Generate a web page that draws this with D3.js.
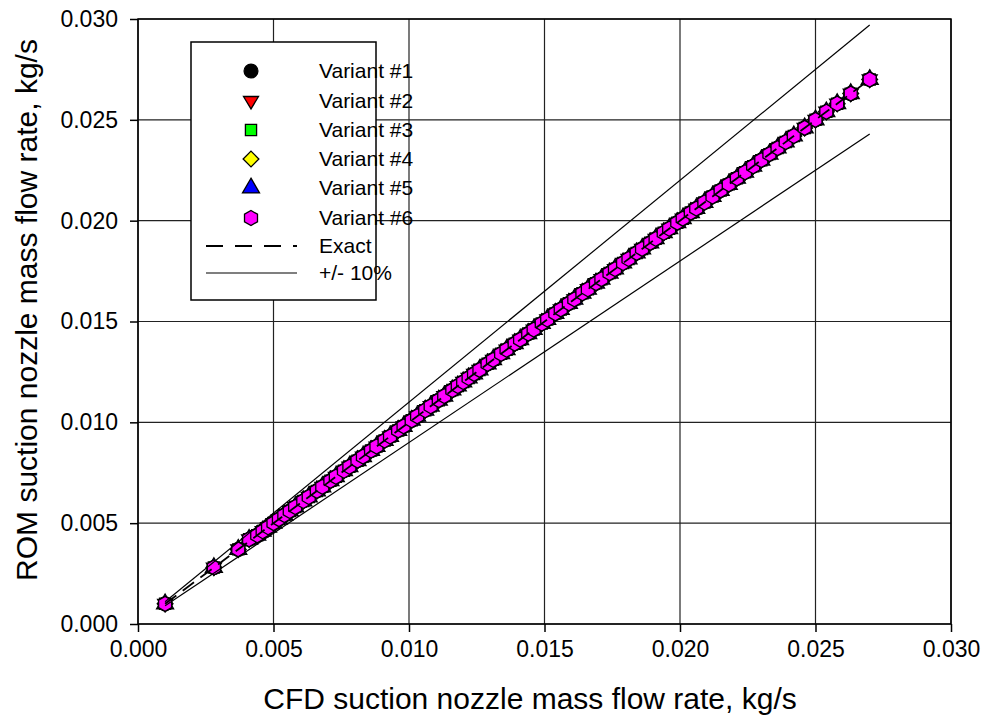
<!DOCTYPE html>
<html>
<head>
<meta charset="utf-8">
<script src="https://cdn.jsdelivr.net/npm/d3@7"></script>
<style>
  body { margin: 0; background: #fff; }
  svg { font-family: "Liberation Sans", Arial, sans-serif; }
</style>
</head>
<body>
<svg width="987" height="726"></svg>
<script>
// CFD (x) vs ROM (y) suction nozzle mass flow rate, kg/s
var cfd = [0.0010, 0.0028, 0.0037, 0.0041, 0.0044, 0.0046, 0.0048, 0.0050, 0.0052, 0.0054,
  0.0056, 0.0058, 0.0061, 0.0063, 0.0066, 0.0068, 0.0071, 0.0073, 0.0076, 0.0078,
  0.0081, 0.0083, 0.0086, 0.0088, 0.0091, 0.0093, 0.0096, 0.0098, 0.0101, 0.0103,
  0.0106, 0.0108, 0.0111, 0.0113, 0.0116, 0.0118, 0.0120, 0.0122, 0.0124, 0.0126,
  0.0129, 0.0131, 0.0134, 0.0136, 0.0139, 0.0141, 0.0144, 0.0146, 0.0149, 0.0151,
  0.0154, 0.0156, 0.0159, 0.0161, 0.0164, 0.0166, 0.0169, 0.0171, 0.0174, 0.0176,
  0.0179, 0.0181, 0.0184, 0.0186, 0.0189, 0.0191, 0.0194, 0.0196, 0.0199, 0.0201,
  0.0204, 0.0206, 0.0209, 0.0212, 0.0215, 0.0218, 0.0221, 0.0224, 0.0227, 0.0230,
  0.0233, 0.0236, 0.0239, 0.0242, 0.0246, 0.0250, 0.0254, 0.0258, 0.0263, 0.0270];
var rom = [0.0010, 0.0028, 0.0037, 0.0042, 0.0044, 0.0046, 0.0048, 0.0050, 0.0052, 0.0054,
  0.0056, 0.0058, 0.0061, 0.0063, 0.0066, 0.0068, 0.0071, 0.0073, 0.0076, 0.0078,
  0.0081, 0.0083, 0.0086, 0.0088, 0.0091, 0.0093, 0.0096, 0.0098, 0.0101, 0.0103,
  0.0106, 0.0108, 0.0111, 0.0113, 0.0116, 0.0118, 0.0120, 0.0122, 0.0124, 0.0126,
  0.0129, 0.0131, 0.0134, 0.0136, 0.0139, 0.0141, 0.0144, 0.0146, 0.0149, 0.0151,
  0.0154, 0.0156, 0.0159, 0.0161, 0.0164, 0.0166, 0.0169, 0.0171, 0.0174, 0.0176,
  0.0179, 0.0181, 0.0184, 0.0186, 0.0189, 0.0191, 0.0194, 0.0196, 0.0199, 0.0201,
  0.0204, 0.0206, 0.0209, 0.0212, 0.0215, 0.0218, 0.0221, 0.0224, 0.0227, 0.0230,
  0.0233, 0.0236, 0.0239, 0.0242, 0.0246, 0.0250, 0.0254, 0.0258, 0.0263, 0.0270];

var variants = ["Variant #1", "Variant #2", "Variant #3", "Variant #4", "Variant #5", "Variant #6"];
var exactX = [0.001, 0.027], exactY = [0.001, 0.027];
var plusX = [0.001, 0.027], plusY = [0.0011, 0.0297];
var minusX = [0.001, 0.027], minusY = [0.0009, 0.0243];
var ticks = [0.000, 0.005, 0.010, 0.015, 0.020, 0.025, 0.030];

// marker styles per variant
var symbols = [d3.symbolCircle, "tridown", d3.symbolSquare, d3.symbolDiamond, d3.symbolTriangle, "hex"];
var fills = ["#000000", "#ff0000", "#00ff00", "#ffff00", "#0000ff", "#ff00ff"];

var svg = d3.select("svg"),
    pLeft = 138, pRight = 951, pTop = 19, pBottom = 624;

var x = d3.scaleLinear().domain([0, 0.03]).range([pLeft, pRight]);
var y = d3.scaleLinear().domain([0, 0.03]).range([pBottom, pTop]);

function shape(s, r) {
  if (s === "hex") {
    var p = [];
    for (var k = 0; k < 6; k++) {
      var a = Math.PI / 3 * k;
      p.push([r * Math.sin(a), -r * Math.cos(a)]);
    }
    return "M" + p.join("L") + "Z";
  }
  if (s === "tridown") {
    return "M" + (-r) + "," + (-r * 0.6) + "L" + r + "," + (-r * 0.6) + "L0," + (r * 1.05) + "Z";
  }
  if (s === d3.symbolDiamond) {
    return "M0," + (-r * 1.05) + "L" + (r * 1.05) + ",0L0," + (r * 1.05) + "L" + (-r * 1.05) + ",0Z";
  }
  var size = s === d3.symbolCircle ? 150 : s === d3.symbolSquare ? 125 : 125;
  return d3.symbol().type(s).size(size)();
}

// grid
var g = svg.append("g");
g.selectAll(".vg").data(ticks).enter().append("line")
  .attr("x1", d => x(d)).attr("x2", d => x(d)).attr("y1", pTop).attr("y2", pBottom)
  .attr("stroke", "#222").attr("stroke-width", 1.2);
g.selectAll(".hg").data(ticks).enter().append("line")
  .attr("x1", pLeft).attr("x2", pRight).attr("y1", d => y(d)).attr("y2", d => y(d))
  .attr("stroke", "#222").attr("stroke-width", 1.2);

// axes
svg.append("g").attr("transform", "translate(0," + pBottom + ")")
  .call(d3.axisBottom(x).tickValues(ticks).tickFormat(d3.format(".3f")).tickSize(8).tickPadding(9))
  .call(a => a.select(".domain").remove())
  .selectAll("text").attr("font-size", 23).attr("fill", "#000").attr("font-family", "Liberation Sans, Arial");
svg.append("g").attr("transform", "translate(" + pLeft + ",0)")
  .call(d3.axisLeft(y).tickValues(ticks).tickFormat(d3.format(".3f")).tickSize(8).tickPadding(12))
  .call(a => a.select(".domain").remove())
  .selectAll("text").attr("font-size", 23).attr("fill", "#000").attr("font-family", "Liberation Sans, Arial");
svg.selectAll(".tick line").attr("stroke", "#000").attr("stroke-width", 1.5);

svg.append("rect").attr("x", pLeft).attr("y", pTop).attr("width", pRight - pLeft).attr("height", pBottom - pTop)
  .attr("fill", "none").attr("stroke", "#000").attr("stroke-width", 1.5);

// markers, each variant drawn over the previous one
var pts = cfd.map((v, i) => [v, rom[i]]);
variants.forEach(function(name, vi) {
  svg.append("g").selectAll("path").data(pts).enter().append("path")
    .attr("transform", d => "translate(" + x(d[0]) + "," + y(d[1]) + ")")
    .attr("d", shape(symbols[vi], 7.5))
    .attr("fill", fills[vi]).attr("stroke", "#000").attr("stroke-width", 1.3);
});

// reference lines
var line = d3.line().x(d => x(d[0])).y(d => y(d[1]));
svg.append("path").datum(exactX.map((v, i) => [v, exactY[i]])).attr("d", line)
  .attr("stroke", "#000").attr("stroke-width", 1.8).attr("stroke-dasharray", "14,8").attr("fill", "none");
[[plusX, plusY], [minusX, minusY]].forEach(function(s) {
  svg.append("path").datum(s[0].map((v, i) => [v, s[1][i]])).attr("d", line)
    .attr("stroke", "#000").attr("stroke-width", 1.2).attr("fill", "none");
});

// legend
var lg = svg.append("g");
lg.append("rect").attr("x", 191).attr("y", 42).attr("width", 185).attr("height", 258)
  .attr("fill", "#fff").attr("stroke", "#000").attr("stroke-width", 1.5);
var rowY = [71, 101, 130, 159, 188, 218, 246, 273];
variants.forEach(function(name, vi) {
  lg.append("path").attr("transform", "translate(251," + rowY[vi] + ")")
    .attr("d", shape(symbols[vi], 7.5))
    .attr("fill", fills[vi]).attr("stroke", "#000").attr("stroke-width", 1.3);
  lg.append("text").attr("x", 319).attr("y", rowY[vi] + 7).attr("font-size", 21).text(name);
});
lg.append("line").attr("x1", 206).attr("x2", 297).attr("y1", rowY[6]).attr("y2", rowY[6])
  .attr("stroke", "#000").attr("stroke-width", 2).attr("stroke-dasharray", "17,12");
lg.append("text").attr("x", 319).attr("y", rowY[6] + 7).attr("font-size", 21).text("Exact");
lg.append("line").attr("x1", 206).attr("x2", 297).attr("y1", rowY[7]).attr("y2", rowY[7])
  .attr("stroke", "#000").attr("stroke-width", 1.2);
lg.append("text").attr("x", 319).attr("y", rowY[7] + 7).attr("font-size", 21).text("+/- 10%");

// axis titles
svg.append("text").attr("x", 530).attr("y", 709).attr("text-anchor", "middle")
  .attr("font-size", 30).text("CFD suction nozzle mass flow rate, kg/s");
svg.append("text").attr("transform", "translate(37,310) rotate(-90)")
  .attr("text-anchor", "middle").attr("font-size", 30).text("ROM suction nozzle mass flow rate, kg/s");
</script>
</body>
</html>
